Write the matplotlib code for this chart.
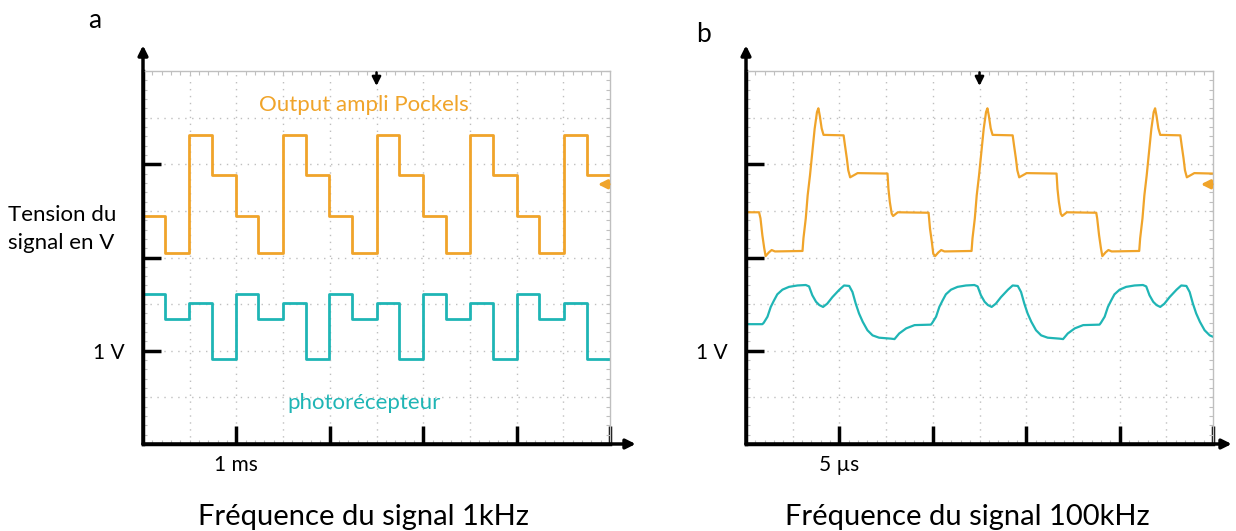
import matplotlib
matplotlib.use("Agg")
import matplotlib.pyplot as plt
from matplotlib.ticker import MultipleLocator

plt.rcParams['font.family'] = ['Lato', 'DejaVu Sans']

ORANGE = '#F0A42A'
CYAN = '#1FB5B5'

# ---- panel a : 1 kHz (x and y in scope divisions) ----
a_steps_t = [0, 0.47, 0.99, 1.47, 1.99, 2.47, 3.0, 3.48, 3.99, 4.48, 5.0,
             5.48, 5.99, 6.49, 7.0, 7.49, 8.0, 8.49, 9.02, 9.5, 10.0]
a_orange = [4.90, 4.09, 6.62, 5.78, 4.90, 4.09, 6.62, 5.78, 4.90, 4.09, 6.62,
            5.78, 4.90, 4.09, 6.62, 5.78, 4.90, 4.09, 6.62, 5.78, 5.78]
a_cyan = [3.21, 2.68, 3.03, 1.83, 3.21, 2.68, 3.03, 1.83, 3.21, 2.68, 3.03,
          1.83, 3.21, 2.68, 3.03, 1.83, 3.21, 2.68, 3.03, 1.83, 1.83]

# ---- panel b : 100 kHz ----
b_orange_t = [0.00, 0.28, 0.31, 0.35, 0.39, 0.42, 0.49, 0.55, 0.62, 1.21, 1.23, 1.28, 1.32, 1.37,
              1.42, 1.47, 1.52, 1.55, 1.58, 1.62, 1.66, 2.09, 2.12, 2.16, 2.19, 2.23, 2.32, 2.39,
              3.03, 3.05, 3.08, 3.12, 3.15, 3.25, 3.91,
              3.94, 3.98, 4.01, 4.05, 4.12, 4.18, 4.25, 4.83, 4.85, 4.90, 4.94, 4.99, 5.04, 5.09,
              5.14, 5.17, 5.20, 5.24, 5.28, 5.71, 5.74, 5.78, 5.81, 5.85, 5.94, 6.01, 6.65, 6.67,
              6.70, 6.74, 6.77, 6.87, 7.50,
              7.52, 7.56, 7.60, 7.63, 7.70, 7.76, 7.83, 8.42, 8.44, 8.49, 8.53, 8.58, 8.63, 8.68,
              8.73, 8.76, 8.79, 8.83, 8.87, 9.30, 9.33, 9.37, 9.40, 9.44, 9.53, 9.60, 10.0]
b_orange = [4.97, 4.97, 4.84, 4.48, 4.20, 4.03, 4.11, 4.16, 4.13, 4.14, 4.41, 4.84, 5.33, 5.76,
            6.26, 6.76, 7.12, 7.20, 7.04, 6.77, 6.63, 6.62, 6.40, 6.12, 5.87, 5.72, 5.77, 5.81,
            5.80, 5.47, 5.19, 4.94, 4.89, 4.97, 4.96,
            4.62, 4.33, 4.08, 4.03, 4.11, 4.16, 4.13, 4.14, 4.41, 4.84, 5.33, 5.76, 6.26, 6.76,
            7.12, 7.20, 7.04, 6.77, 6.63, 6.62, 6.40, 6.12, 5.87, 5.72, 5.77, 5.81, 5.80, 5.47,
            5.19, 4.94, 4.89, 4.97, 4.96,
            4.84, 4.48, 4.20, 4.03, 4.11, 4.16, 4.13, 4.14, 4.41, 4.84, 5.33, 5.76, 6.26, 6.76,
            7.12, 7.20, 7.04, 6.77, 6.63, 6.62, 6.40, 6.12, 5.87, 5.72, 5.77, 5.81, 5.80]

b_cyan_t = [0.00, 0.35, 0.38, 0.46, 0.53, 0.60, 0.67, 0.78, 0.92, 1.10, 1.28, 1.35, 1.42, 1.50,
            1.57, 1.65, 1.74, 1.85, 2.00, 2.10, 2.21, 2.28, 2.35, 2.42, 2.50, 2.60, 2.71, 2.85,
            3.10, 3.18, 3.28, 3.43, 3.61, 3.96,
            3.99, 4.07, 4.14, 4.21, 4.28, 4.39, 4.53, 4.71, 4.89, 4.96, 5.03, 5.11, 5.18, 5.26,
            5.35, 5.46, 5.61, 5.71, 5.82, 5.89, 5.96, 6.03, 6.11, 6.21, 6.32, 6.46, 6.71, 6.79,
            6.89, 7.04, 7.22, 7.57,
            7.60, 7.68, 7.75, 7.82, 7.89, 8.00, 8.14, 8.32, 8.50, 8.57, 8.64, 8.72, 8.79, 8.87,
            8.96, 9.07, 9.22, 9.32, 9.43, 9.50, 9.57, 9.64, 9.72, 9.82, 9.93, 10.0]
b_cyan = [2.57, 2.57, 2.60, 2.73, 2.94, 3.08, 3.21, 3.31, 3.37, 3.40, 3.41, 3.38, 3.19, 3.05,
          2.98, 2.94, 3.01, 3.15, 3.31, 3.40, 3.39, 3.26, 3.01, 2.80, 2.62, 2.44, 2.33, 2.28,
          2.26, 2.25, 2.37, 2.48, 2.55, 2.56,
          2.60, 2.73, 2.94, 3.08, 3.21, 3.31, 3.37, 3.40, 3.41, 3.38, 3.19, 3.05, 2.98, 2.94,
          3.01, 3.15, 3.31, 3.40, 3.39, 3.26, 3.01, 2.80, 2.62, 2.44, 2.33, 2.28, 2.26, 2.25,
          2.37, 2.48, 2.55, 2.56,
          2.60, 2.73, 2.94, 3.08, 3.21, 3.31, 3.37, 3.40, 3.41, 3.38, 3.19, 3.05, 2.98, 2.94,
          3.01, 3.15, 3.31, 3.40, 3.39, 3.26, 3.01, 2.80, 2.62, 2.44, 2.33, 2.30]

W, H = 1236, 531
fig = plt.figure(figsize=(W / 100, H / 100), dpi=100)


def px_axes(x0, x1, y_top, y_bot):
    return fig.add_axes([x0 / W, 1 - y_bot / H, (x1 - x0) / W, (y_bot - y_top) / H])


def scope(ax, xlabel, arrow_x):
    ax.set_xlim(0, 10)
    ax.set_ylim(0, 8)
    for i in range(1, 10):
        ax.axvline(i, color='0.75', lw=1, ls=(0, (1, 4)), zorder=0)
    for j in range(1, 8):
        ax.axhline(j, color='0.75', lw=1, ls=(0, (1, 4)), zorder=0)
    ax.xaxis.set_minor_locator(MultipleLocator(0.2))
    ax.yaxis.set_minor_locator(MultipleLocator(0.2))
    ax.set_xticks([2, 4, 6, 8, 10], [xlabel, '', '', '', ''])
    ax.set_yticks([2, 4, 6], ['1 V', '', ''])
    ax.tick_params(which='major', direction='in', length=13, width=2.5, color='black',
                   labelsize=15, top=False, right=False)
    ax.tick_params(axis='x', which='major', pad=8)
    ax.tick_params(axis='y', which='major', pad=13)
    ax.tick_params(which='minor', direction='in', length=3, width=0.8, color='0.75',
                   top=True, right=True, bottom=True, left=True)
    for s in ['top', 'right']:
        ax.spines[s].set_color('0.75')
        ax.spines[s].set_linewidth(1)
    for s in ['left', 'bottom']:
        ax.spines[s].set_color('black')
        ax.spines[s].set_linewidth(2.5)
    # axis arrows
    ax.annotate('', xy=(0, 8.55), xytext=(0, 0), annotation_clip=False,
                arrowprops=dict(arrowstyle='-|>', lw=2.5, color='black', mutation_scale=14,
                                shrinkA=0, shrinkB=0))
    ax.annotate('', xy=(arrow_x, 0), xytext=(0, 0), annotation_clip=False,
                arrowprops=dict(arrowstyle='-|>', lw=2.5, color='black', mutation_scale=14,
                                shrinkA=0, shrinkB=0))
    # trigger marker and level marker
    ax.annotate('', xy=(5, 7.68), xytext=(5, 7.97),
                arrowprops=dict(arrowstyle='-|>', lw=1.8, color='black', mutation_scale=13,
                                shrinkA=0, shrinkB=0))
    ax.annotate('', xy=(9.74, 5.57), xytext=(9.98, 5.57),
                arrowprops=dict(arrowstyle='-|>', lw=2.2, color=ORANGE, mutation_scale=13,
                                shrinkA=0, shrinkB=0))


ax1 = px_axes(143, 610, 71, 444)
scope(ax1, '1 ms', 10.55)
ax1.plot(a_steps_t, a_orange, drawstyle='steps-post', color=ORANGE, lw=2)
ax1.plot(a_steps_t, a_cyan, drawstyle='steps-post', color=CYAN, lw=2)
ax1.text(4.73, 7.27, 'Output ampli Pockels', color=ORANGE, fontsize=16, ha='center', va='center')
ax1.text(4.73, 0.87, 'photorécepteur', color=CYAN, fontsize=16, ha='center', va='center')

ax2 = px_axes(746, 1213, 71, 444)
scope(ax2, '5 µs', 10.4)
ax2.plot(b_orange_t, b_orange, color=ORANGE, lw=1.6)
ax2.plot(b_cyan_t, b_cyan, color=CYAN, lw=1.6)

fig.text(95 / W, 1 - 20 / H, 'a', fontsize=19, ha='center', va='center')
fig.text(703 / W, 1 - 35 / H, 'b', fontsize=19, ha='center', va='center')
fig.text(8 / W, 1 - 229 / H, 'Tension du\nsignal en V', fontsize=16, ha='left', va='center',
         linespacing=1.5)
fig.text(363 / W, 1 - 517 / H, 'Fréquence du signal 1kHz', fontsize=21, ha='center', va='center')
fig.text(967 / W, 1 - 517 / H, 'Fréquence du signal 100kHz', fontsize=21, ha='center', va='center')

fig.savefig('out.png', dpi=100)
